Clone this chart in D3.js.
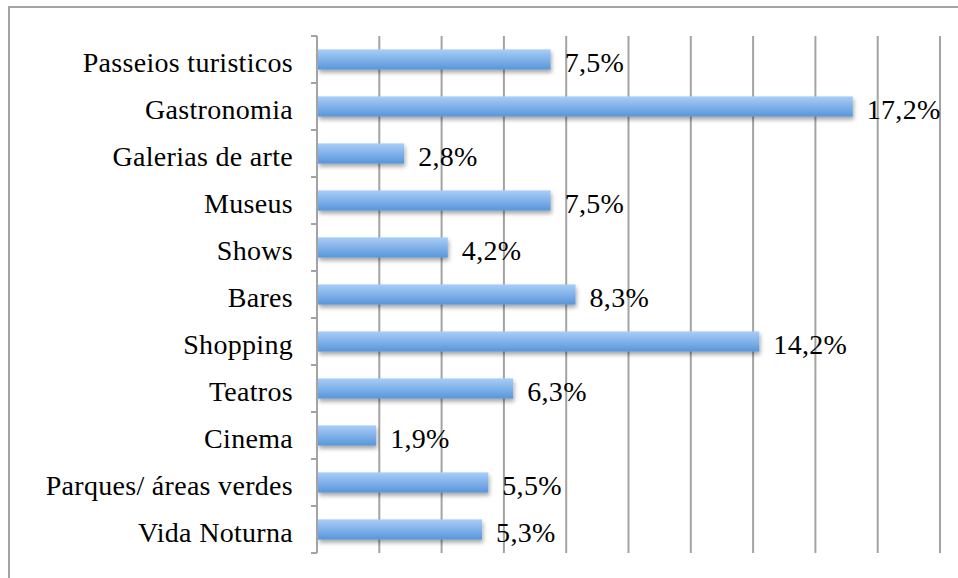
<!DOCTYPE html>
<html>
<head>
<meta charset="utf-8">
<script src="https://cdn.jsdelivr.net/npm/d3@7"></script>
<style>
  body { margin: 0; background: #fff; }
  svg { display: block; font-family: "Liberation Serif", "Times New Roman", serif; }
</style>
</head>
<body>
<div class="wrapper"></div>
<script>
const categories = ["Passeios turisticos", "Gastronomia", "Galerias de arte", "Museus", "Shows",
  "Bares", "Shopping", "Teatros", "Cinema", "Parques/ áreas verdes", "Vida Noturna"]
const values = [7.5, 17.2, 2.8, 7.5, 4.2, 8.3, 14.2, 6.3, 1.9, 5.5, 5.3]
const gridTicks = [2, 4, 6, 8, 10, 12, 14, 16, 18, 20]

const dataset = categories.map((c, i) => ({category: c, value: values[i]}))

let dimensions = {
  width: 958,
  height: 578,
  margin: {top: 36, right: 18, bottom: 25, left: 317},
}
dimensions.boundedWidth = dimensions.width - dimensions.margin.left - dimensions.margin.right
dimensions.boundedHeight = dimensions.height - dimensions.margin.top - dimensions.margin.bottom

const wrapper = d3.select(".wrapper")
  .append("svg")
  .attr("width", dimensions.width)
  .attr("height", dimensions.height)

const defs = wrapper.append("defs")
const grad = defs.append("linearGradient")
  .attr("id", "bar-gradient")
  .attr("x1", 0).attr("y1", 0).attr("x2", 0).attr("y2", 1)
grad.append("stop").attr("offset", "0%").attr("stop-color", "#a9cdf8")
grad.append("stop").attr("offset", "100%").attr("stop-color", "#5896da")

const shadow = defs.append("filter")
  .attr("id", "bar-shadow")
  .attr("x", "-5%").attr("y", "-30%").attr("width", "110%").attr("height", "180%")
shadow.append("feDropShadow")
  .attr("dx", 1).attr("dy", 3).attr("stdDeviation", 2.2)
  .attr("flood-color", "#000").attr("flood-opacity", 0.35)

// outer chart border (runs off the right/bottom edge)
wrapper.append("rect")
  .attr("x", 9).attr("y", 7)
  .attr("width", 980).attr("height", 600)
  .attr("fill", "none")
  .attr("stroke", "#a3a3a3")
  .attr("stroke-width", 2)

const bounds = wrapper.append("g")
  .attr("transform", `translate(${dimensions.margin.left}, ${dimensions.margin.top})`)

const xScale = d3.scaleLinear()
  .domain([0, 20])
  .range([0, 623])

const yScale = d3.scaleBand()
  .domain(categories)
  .range([0, 517])
  .paddingInner(0.57)
  .paddingOuter(0.285)

// gridlines
bounds.selectAll(".grid")
  .data(gridTicks)
  .enter().append("line")
  .attr("x1", d => xScale(d)).attr("x2", d => xScale(d))
  .attr("y1", 0).attr("y2", 517)
  .attr("stroke", "#a3a3a3")
  .attr("stroke-width", 2)

// bars
bounds.selectAll(".bar")
  .data(dataset)
  .enter().append("rect")
  .attr("x", 1)
  .attr("y", d => yScale(d.category))
  .attr("width", d => xScale(d.value) - 1)
  .attr("height", yScale.bandwidth())
  .attr("fill", "url(#bar-gradient)")
  .attr("filter", "url(#bar-shadow)")

// y axis line + ticks at category boundaries
const step = yScale.step()
bounds.append("line")
  .attr("x1", 0).attr("x2", 0)
  .attr("y1", 0).attr("y2", 517)
  .attr("stroke", "#a3a3a3")
  .attr("stroke-width", 2)
bounds.selectAll(".tick")
  .data(d3.range(categories.length + 1))
  .enter().append("line")
  .attr("x1", -6).attr("x2", 0)
  .attr("y1", i => i * step).attr("y2", i => i * step)
  .attr("stroke", "#a3a3a3")
  .attr("stroke-width", 2)

// category labels
bounds.selectAll(".cat-label")
  .data(dataset)
  .enter().append("text")
  .attr("x", -24)
  .attr("y", d => yScale(d.category) + yScale.bandwidth() / 2 + 12)
  .attr("text-anchor", "end")
  .attr("font-size", 28)
  .attr("letter-spacing", 0.3)
  .attr("fill", "#000")
  .text(d => d.category)

// value labels
bounds.selectAll(".val-label")
  .data(dataset)
  .enter().append("text")
  .attr("x", d => xScale(d.value) + 14)
  .attr("y", d => yScale(d.category) + yScale.bandwidth() / 2 + 12)
  .attr("font-size", 28)
  .attr("letter-spacing", 0.3)
  .attr("fill", "#000")
  .text(d => d3.format(".1f")(d.value).replace(".", ",") + "%")
</script>
</body>
</html>
